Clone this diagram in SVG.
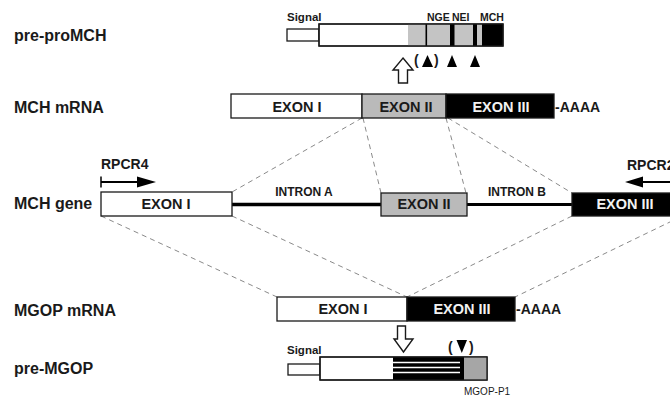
<svg xmlns="http://www.w3.org/2000/svg" width="670" height="399" viewBox="0 0 670 399">
<style>
  .lbl{font-family:"Liberation Sans",Arial,sans-serif;font-weight:bold;font-size:16px;fill:#1a1a1a}
  .ex{font-family:"Liberation Sans",Arial,sans-serif;font-weight:bold;font-size:14.5px;fill:#1a1a1a;text-anchor:middle}
  .exw{font-family:"Liberation Sans",Arial,sans-serif;font-weight:bold;font-size:14.5px;fill:#f2f2f2;text-anchor:middle}
  .sm{font-family:"Liberation Sans",Arial,sans-serif;font-weight:bold;font-size:10.5px;fill:#1a1a1a}
  .in{font-family:"Liberation Sans",Arial,sans-serif;font-weight:bold;font-size:12px;fill:#1a1a1a;text-anchor:middle}
  .pr{font-family:"Liberation Sans",Arial,sans-serif;font-weight:bold;font-size:14px;fill:#1a1a1a}
  .box{stroke:#1a1a1a;stroke-width:1.3}
  .w{fill:#ffffff}
  .g{fill:#bababa}
  .k{fill:#000000}
  .dash{stroke:#8a8a8a;stroke-width:1;stroke-dasharray:5 4;fill:none}
  .oa{fill:#ffffff;stroke:#1a1a1a;stroke-width:1.4;stroke-linejoin:miter}
</style>

<!-- left labels -->
<g id="labels">
  <text class="lbl" x="14" y="41">pre-proMCH</text>
  <text class="lbl" x="14" y="113">MCH mRNA</text>
  <text class="lbl" x="14" y="209">MCH gene</text>
  <text class="lbl" x="14" y="316">MGOP mRNA</text>
  <text class="lbl" x="14" y="374">pre-MGOP</text>
</g>

<g id="connectors">
  <line class="dash" x1="362" y1="118" x2="232" y2="192"/>
  <line class="dash" x1="363" y1="118" x2="381" y2="193"/>
  <line class="dash" x1="446" y1="118" x2="466" y2="193"/>
  <line class="dash" x1="448" y1="118" x2="572" y2="193"/>
  <line class="dash" x1="101" y1="216" x2="277" y2="297"/>
  <line class="dash" x1="232" y1="216" x2="407" y2="297"/>
  <line class="dash" x1="572" y1="216" x2="407" y2="297"/>
  <line class="dash" x1="672" y1="221" x2="515" y2="297"/>
</g>

<!-- pre-proMCH -->
<g id="pre-proMCH">
  <text class="sm" x="287" y="21" style="font-size:11.5px">Signal</text>
  <text class="sm" x="427" y="21">NGE</text>
  <text class="sm" x="452" y="21">NEI</text>
  <text class="sm" x="480" y="21">MCH</text>
  <rect class="box w" x="287" y="29" width="32" height="12"/>
  <rect class="box w" x="319" y="24" width="184" height="22"/>
  <rect x="408" y="24.7" width="74" height="20.6" fill="#c4c4c4"/>
  <rect x="425.5" y="24" width="1.6" height="22" fill="#000"/>
  <rect x="450" y="24" width="4.5" height="22" fill="#000"/>
  <rect x="473" y="24" width="4" height="22" fill="#000"/>
  <rect x="482" y="24" width="21" height="22" fill="#000"/>
  <rect x="319" y="24" width="184" height="22" fill="none" stroke="#1a1a1a" stroke-width="1.3"/>
  <polygon class="oa" points="403,58 413,70 407.5,70 407.5,83 398.5,83 398.5,70 393,70"/>
  <text class="pr" x="414" y="65">(</text>
  <text class="pr" x="434" y="65">)</text>
  <polygon points="422,67 427.5,55 433,67" fill="#000"/>
  <polygon points="447,67 452,55 457,67" fill="#000"/>
  <polygon points="470,67 475,55 480,67" fill="#000"/>
</g>

<!-- MCH mRNA -->
<g id="mch-mrna">
  <rect class="box w" x="231" y="94" width="131" height="24"/>
  <rect class="box g" x="362" y="94" width="84" height="24"/>
  <rect class="box k" x="446" y="94" width="108" height="24"/>
  <text class="ex" x="297" y="112">EXON I</text>
  <text class="ex" x="406" y="112">EXON II</text>
  <text class="exw" x="501" y="112">EXON III</text>
  <text class="pr" x="555" y="112">-AAAA</text>
</g>

<!-- MCH gene -->
<g id="mch-gene">
  <line x1="232" y1="204.5" x2="381" y2="204.5" stroke="#000" stroke-width="3.5"/>
  <line x1="467" y1="204.5" x2="572" y2="204.5" stroke="#000" stroke-width="3"/>
  <rect class="box w" x="101" y="192" width="131" height="24"/>
  <rect class="box g" x="381" y="193" width="86" height="23"/>
  <rect class="box k" x="572" y="193" width="110" height="23"/>
  <text class="ex" x="166" y="209">EXON I</text>
  <text class="ex" x="424" y="209">EXON II</text>
  <text class="exw" x="625" y="209">EXON III</text>
  <text class="in" x="304" y="196">INTRON A</text>
  <text class="in" x="517" y="196">INTRON B</text>
</g>

<g id="rpcr4">
  <text class="pr" x="101" y="169">RPCR4</text>
  <line x1="101" y1="176.5" x2="101" y2="187.5" stroke="#000" stroke-width="1.5"/>
  <line x1="101" y1="182" x2="140" y2="182" stroke="#000" stroke-width="2"/>
  <polygon points="137,176.5 156,182 137,187.5" fill="#000"/>
</g>

<g id="rpcr2">
  <text class="pr" x="627" y="170">RPCR2</text>
  <line x1="640" y1="182" x2="672" y2="182" stroke="#000" stroke-width="2"/>
  <polygon points="643,176.5 625,182 643,187.5" fill="#000"/>
</g>

<!-- MGOP mRNA -->
<g id="mgop-mrna">
  <rect class="box w" x="277" y="297" width="130" height="24"/>
  <rect class="box k" x="407" y="297" width="108" height="24"/>
  <text class="ex" x="343" y="314">EXON I</text>
  <text class="exw" x="462" y="314">EXON III</text>
  <text class="pr" x="516" y="314">-AAAA</text>
</g>

<!-- pre-MGOP -->
<g id="pre-mgop">
  <polygon class="oa" points="397.5,326 405.5,326 405.5,339 413,339 403.5,352 394,339 397.5,339"/>
  <text class="pr" x="448" y="352">(</text>
  <text class="pr" x="469" y="352">)</text>
  <polygon points="456.5,340 467,340 461.8,353" fill="#000"/>
  <text class="sm" x="287" y="354" style="font-size:11.5px">Signal</text>
  <rect class="box w" x="288" y="364" width="32" height="11"/>
  <rect class="box w" x="320" y="357" width="167" height="23"/>
  <rect x="393" y="357" width="71" height="23" fill="#000"/>
  <rect x="464" y="357" width="23" height="23" fill="#a6a6a6"/>
  <line x1="393" y1="362.5" x2="460" y2="362.5" stroke="#fff" stroke-width="1.3"/>
  <line x1="393" y1="367.5" x2="460" y2="367.5" stroke="#fff" stroke-width="1.3"/>
  <line x1="393" y1="372.5" x2="460" y2="372.5" stroke="#fff" stroke-width="1.3"/>
  <rect x="320" y="357" width="167" height="23" fill="none" stroke="#1a1a1a" stroke-width="1.3"/>
  <text class="sm" x="464" y="395" style="font-weight:normal;font-size:10px">MGOP-P1</text>
</g>
</svg>
